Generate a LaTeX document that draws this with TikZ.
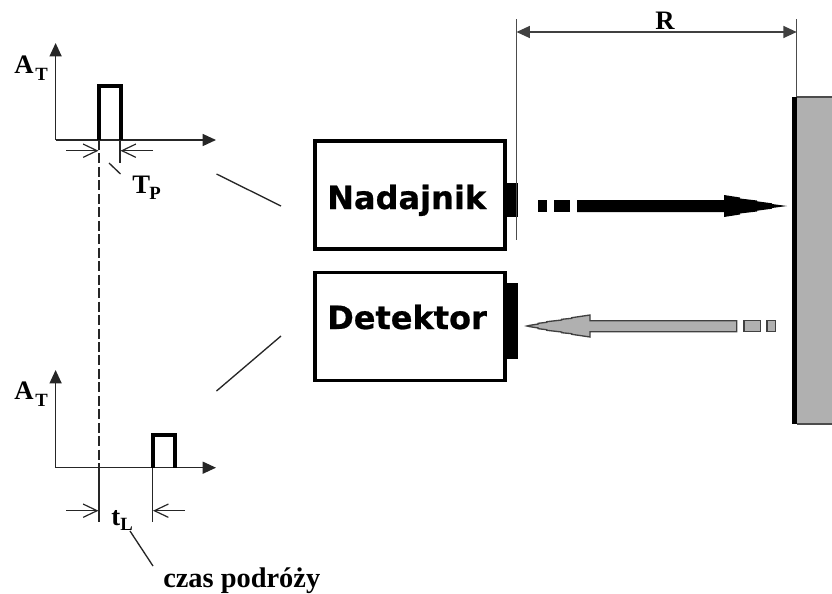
\documentclass[tikz,border=0pt]{standalone}
\usepackage{fontspec}
\setmainfont{Liberation Serif}
\newfontfamily\boxfont[BoldFeatures={FakeBold=0.7}]{DejaVu Sans}
\usetikzlibrary{arrows.meta}
\tikzset{
  x=0.75pt,y=-0.75pt,
  thinln/.style={line width=1pt,black!85},
  axisln/.style={line width=1pt,black!85,-{Triangle[length=10pt,width=9pt]}},
  dimarrow/.style={line width=0.9pt,black!85,-{Straight Barb[length=10.5pt,width=10pt,line width=0.9pt]}},
  rarrow/.style={line width=1pt,black!75,{Triangle[length=10pt,width=9pt]}-{Triangle[length=10pt,width=9pt]}},
  pulse/.style={line width=3pt,miter limit=10},
  unitbox/.style={draw=black,line width=2.9pt,fill=white,inner sep=0pt,minimum width=143pt,minimum height=81pt,anchor=center},
  boxlabel/.style={font=\boxfont\bfseries\fontsize{24}{24}\selectfont,anchor=base west,inner sep=0pt},
  serif/.style={font=\bfseries\fontsize{20}{20}\selectfont,anchor=base west,inner sep=0pt},
  subs/.style={font=\bfseries\fontsize{14}{14}\selectfont,anchor=base west,inner sep=0pt},
  port/.style={fill=black,draw=none},
  grayfill/.style={fill=black!31,draw=black!75,line width=1pt},
}
\begin{document}
\begin{tikzpicture}
\useasboundingbox (0,0) rectangle (832,593);
% wall
\fill[black!31] (797,97) rectangle (832,424);
\draw[black!70,line width=1pt] (797,97) -- (832,97) (797,424) -- (832,424);
\fill[black] (792,97) rectangle (797,424);
% boxes
\node[unitbox] (tx) at (410,195) {};
\node[unitbox] (rx) at (410,326.5) {};
\fill[port] (506,183) rectangle (517.5,217);
\fill[port] (506,283) rectangle (517.5,359);
\node[boxlabel] (txlabel) at (327,209) {Nadajnik};
\node[boxlabel] (rxlabel) at (327,329) {Detektor};
% range
\coordinate (ra) at (516.5,19);
\coordinate (rb) at (516.5,240);
\coordinate (rc) at (796.7,19);
\coordinate (rd) at (796.7,97);
\coordinate (re) at (516.5,32);
\coordinate (rf) at (796.7,32);
\draw[thinln,black!70] (ra) -- (rb);
\draw[thinln,black!70] (rc) -- (rd);
\draw[rarrow] (re) -- (rf);
\node[font=\bfseries\fontsize{20}{20}\selectfont,anchor=base,inner sep=0pt] (rlabel) at (665,29) {R};
% black wave
\fill[black] (537.7,200) rectangle (547,212);
\fill[black] (554,200) rectangle (570,212);
\fill[black] (577,200) -- (724,200) -- (724,195) -- (740,197.5) -- (740,198.5) -- (757,200.5) -- (757,201.3) -- (772,203.3) -- (772,204) -- (787,206)
  -- (772,208) -- (772,208.7) -- (757,210.7) -- (757,211.5) -- (740,213.5) -- (740,214.5) -- (724,217) -- (724,212) -- (577,212) -- cycle;
% grey wave
\draw[grayfill] (767,320.7) rectangle (775.5,331.7);
\draw[grayfill] (744,320.7) rectangle (760.5,331.7);
\draw[grayfill,line join=miter] (736.7,320.7) -- (590,320.7) -- (590,315) -- (571.7,317.7) -- (571.7,318.3) -- (561.7,319.3) -- (561.7,320) -- (546.7,321.7) -- (546.7,322.3) -- (538.3,323.3) -- (538.3,324) -- (530,325.3) -- (527,326)
  -- (530,326.7) -- (538.3,328) -- (538.3,328.7) -- (546.7,329.7) -- (546.7,330.3) -- (561.7,332) -- (561.7,332.7) -- (571.7,333.7) -- (571.7,334.3) -- (590,337) -- (590,331.7) -- (736.7,331.7) -- cycle;
% top chart
\coordinate (o1) at (55.6,140);
\coordinate (y1) at (55.6,43);
\coordinate (x1) at (216,140);
\draw[axisln] (o1) -- (y1);
\draw[axisln] (o1) -- (x1);
\draw[pulse] (99,140) -- (99,85.7) -- (120.5,85.7) -- (120.5,140);
\coordinate (d1a) at (66,150.7);
\coordinate (d1b) at (98.5,150.7);
\coordinate (d1c) at (153,150.7);
\coordinate (d1d) at (120.5,150.7);
\draw[dimarrow] (d1a) -- (d1b);
\draw[dimarrow] (d1c) -- (d1d);
\coordinate (t1a) at (120,140);
\coordinate (t1b) at (120,163);
\draw[thinln] (t1a) -- (t1b);
\coordinate (lp1) at (109,163);
\coordinate (lp2) at (120.5,174);
\draw[thinln] (lp1) -- (lp2);
\node[serif] (at1) at (14,73) {A};
\node[subs] (at1s) at (35,80) {T};
\node[serif] (tp) at (132,193) {T};
\node[subs] (tps) at (149,199) {P};
% dashed guide
\coordinate (g0) at (99,140);
\coordinate (g1) at (99,467.7);
\coordinate (g2) at (99,522);
\draw[line width=1pt,black!85,dash pattern=on 7.5pt off 2.6pt] (g0) -- (g1);
\draw[thinln] (g1) -- (g2);
% bottom chart
\coordinate (o2) at (55.6,467.7);
\coordinate (y2) at (55.6,370);
\coordinate (x2) at (216,467.7);
\draw[axisln] (o2) -- (y2);
\draw[axisln] (o2) -- (x2);
\draw[pulse] (152.5,467.7) -- (152.5,435) -- (174.5,435) -- (174.5,467.7);
\coordinate (d2a) at (66,510.7);
\coordinate (d2b) at (98.5,510.7);
\coordinate (d2c) at (185,510.7);
\coordinate (d2d) at (153,510.7);
\draw[dimarrow] (d2a) -- (d2b);
\draw[dimarrow] (d2c) -- (d2d);
\coordinate (t2a) at (152.5,467.7);
\coordinate (t2b) at (152.5,522);
\draw[thinln] (t2a) -- (t2b);
\node[serif] (at2) at (14,399) {A};
\node[subs] (at2s) at (35,406) {T};
\node[serif] (tl) at (111,525) {t};
\node[subs] (tls) at (120,530) {L};
\coordinate (ll1) at (130,531);
\coordinate (ll2) at (153,566);
\draw[thinln] (ll1) -- (ll2);
\node[font=\bfseries\fontsize{21.3}{21.3}\selectfont,anchor=base west,inner sep=0pt] (travel) at (163,587) {czas podróży};
% slanted links
\coordinate (s1a) at (216.5,174);
\coordinate (s1b) at (281,206);
\coordinate (s2a) at (216.5,391);
\coordinate (s2b) at (281,336);
\draw[thinln] (s1a) -- (s1b);
\draw[thinln] (s2a) -- (s2b);
\end{tikzpicture}
\end{document}
